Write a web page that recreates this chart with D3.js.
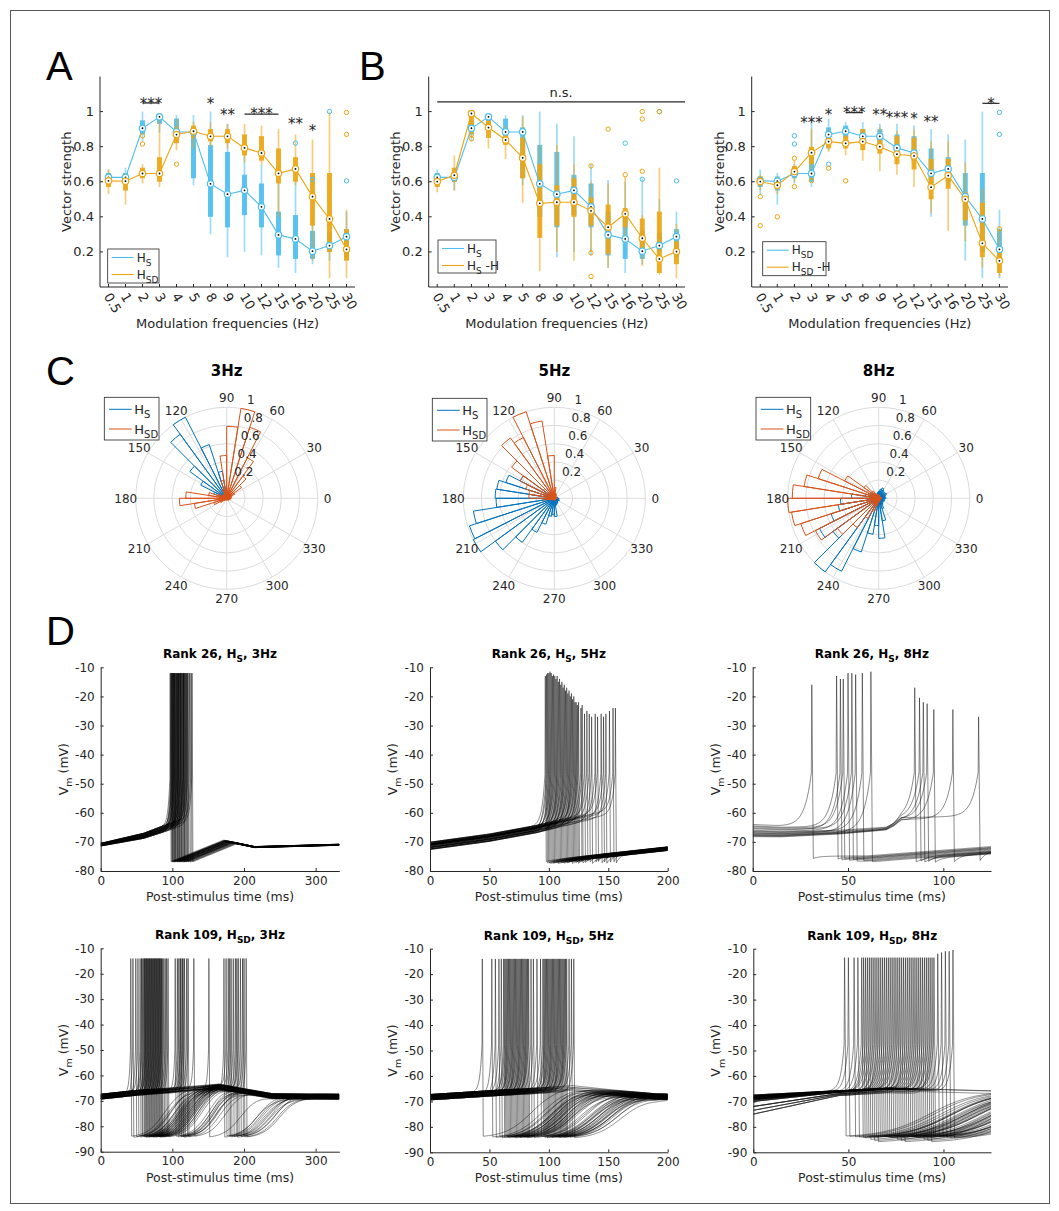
<!DOCTYPE html>
<html>
<head>
<meta charset="utf-8">
<script src="https://cdn.jsdelivr.net/npm/d3@7"></script>
<style>
  body { margin: 0; background: #fff; }
  text { font-family: "DejaVu Sans", sans-serif; fill: #262626; }
</style>
</head>
<body>
<div id="chart"></div>
<script>
// ---------- A / B : vector strength per modulation frequency ----------
const freqs = ["0.5", "1", "2", "3", "4", "5", "8", "9", "10", "12", "15", "16", "20", "25", "30"];
const vsTicks = [0.2, 0.4, 0.6, 0.8, 1];

// medians
const medHS    = [0.625, 0.625, 0.905, 0.97, 0.884, 0.884, 0.588, 0.529, 0.551, 0.457, 0.297, 0.274, 0.204, 0.236, 0.287];
const medHSD   = [0.605, 0.603, 0.647, 0.647, 0.869, 0.888, 0.859, 0.859, 0.793, 0.764, 0.648, 0.673, 0.515, 0.388, 0.215];
const medHSmH  = [0.601, 0.637, 0.989, 0.909, 0.838, 0.736, 0.477, 0.483, 0.483, 0.434, 0.341, 0.417, 0.278, 0.160, 0.202];
const medHSDmH = [0.601, 0.580, 0.658, 0.766, 0.829, 0.819, 0.829, 0.800, 0.757, 0.747, 0.569, 0.635, 0.500, 0.249, 0.149];

// [whisker low, q1, q3, whisker high]
const boxHS = [[0.58, 0.60, 0.65, 0.67], [0.55, 0.60, 0.65, 0.68], [0.83, 0.87, 0.95, 1.0], [0.88, 0.93, 0.98, 0.99],
  [0.82, 0.86, 0.96, 0.98], [0.58, 0.62, 0.91, 0.98], [0.30, 0.40, 0.81, 1.0], [0.17, 0.34, 0.77, 0.93],
  [0.20, 0.41, 0.64, 0.86], [0.18, 0.34, 0.59, 0.70], [0.11, 0.18, 0.43, 0.61], [0.08, 0.16, 0.41, 0.60],
  [0.13, 0.16, 0.32, 0.62], [0.15, 0.20, 0.31, 0.50], [0.16, 0.17, 0.33, 0.43]];
const boxHSD = [[0.53, 0.57, 0.63, 0.67], [0.47, 0.55, 0.63, 0.65], [0.59, 0.62, 0.68, 0.70], [0.57, 0.60, 0.74, 0.96],
  [0.78, 0.82, 0.91, 0.96], [0.79, 0.85, 0.92, 0.94], [0.80, 0.83, 0.90, 0.94], [0.79, 0.82, 0.90, 0.93],
  [0.71, 0.75, 0.87, 0.93], [0.70, 0.72, 0.86, 0.92], [0.40, 0.59, 0.79, 0.90], [0.58, 0.60, 0.74, 0.87],
  [0.15, 0.35, 0.65, 0.84], [0.05, 0.20, 0.65, 1.0], [0.05, 0.15, 0.33, 0.44]];
const boxHSmH = [[0.54, 0.57, 0.63, 0.65], [0.55, 0.60, 0.68, 0.75], [0.85, 0.88, 0.99, 1.0], [0.79, 0.85, 0.95, 0.97],
  [0.73, 0.81, 0.87, 0.92], [0.48, 0.62, 0.85, 0.97], [0.09, 0.28, 0.70, 0.81], [0.20, 0.35, 0.58, 0.81],
  [0.15, 0.40, 0.62, 0.70], [0.20, 0.35, 0.51, 0.60], [0.11, 0.19, 0.47, 0.59], [0.25, 0.34, 0.45, 0.63],
  [0.12, 0.20, 0.39, 0.41], [0.07, 0.08, 0.43, 0.68], [0.05, 0.13, 0.26, 0.36]];
const boxHSDmH = [[0.55, 0.58, 0.63, 0.64], [0.53, 0.56, 0.62, 0.63], [0.60, 0.63, 0.69, 0.72], [0.61, 0.70, 0.80, 0.90],
  [0.77, 0.79, 0.88, 0.90], [0.75, 0.79, 0.86, 0.90], [0.72, 0.78, 0.90, 0.90], [0.66, 0.76, 0.86, 0.91],
  [0.64, 0.70, 0.86, 0.89], [0.57, 0.67, 0.85, 0.90], [0.42, 0.50, 0.73, 0.83], [0.32, 0.56, 0.73, 0.83],
  [0.26, 0.38, 0.54, 0.71], [0.11, 0.17, 0.48, 0.56], [0.06, 0.08, 0.20, 0.33]];

// outliers: [category index, value]
const outHS    = [[11, 0.82], [12, 0.614], [13, 1.0], [14, 0.605]];
const outHSD   = [[2, 0.862], [2, 0.815], [4, 0.70], [14, 0.995], [14, 0.87]];
const outHSmH  = [[2, 0.868], [2, 0.845], [9, 0.69], [9, 0.195], [9, 0.06], [10, 0.90], [11, 0.64],
  [12, 1.0], [12, 0.958], [12, 0.66], [13, 1.0]];
const outHSDmH = [[0, 0.515], [0, 0.35], [1, 0.40], [2, 0.734], [2, 0.572], [3, 0.607], [4, 0.677], [5, 0.605], [14, 0.331]];

// significance marks: star centre and optional bar (vector strength units)
const sigA = [
  { from: "2", to: "3", label: "***", y: 1.066, bar: 1.049 },
  { from: "8", to: "8", label: "*", y: 1.064 },
  { from: "9", to: "9", label: "**", y: 1.0 },
  { from: "10", to: "15", label: "***", y: 1.006, bar: 0.986 },
  { from: "16", to: "16", label: "**", y: 0.949 },
  { from: "20", to: "20", label: "*", y: 0.909 }
];
const sigBright = [
  { from: "3", to: "3", label: "***", y: 0.955 },
  { from: "4", to: "4", label: "*", y: 1.003 },
  { from: "5", to: "8", label: "***", y: 1.01, bar: 0.994 },
  { from: "9", to: "9", label: "**", y: 0.998 },
  { from: "10", to: "10", label: "***", y: 0.983 },
  { from: "12", to: "12", label: "*", y: 0.98 },
  { from: "15", to: "15", label: "**", y: 0.963 },
  { from: "25", to: "30", label: "*", y: 1.063, bar: 1.047 }
];
const nsBar = 1.055;

// ---------- C : polar histograms (40 bins of 9 deg, bin i = [9i, 9i+9]) ----------
const binDeg = 9;
const polarRTicks = [0.2, 0.4, 0.6, 0.8, 1];
const polarATicks = [0, 30, 60, 90, 120, 150, 180, 210, 240, 270, 300, 330];
const pol3HS  = [0.02, 0.02, 0.03, 0.03, 0.04, 0.05, 0.05, 0.06, 0.08, 0.06, 0.12, 0.30, 0.62, 1.0, 0.87, 0.50, 0.32, 0.15, 0.08, 0.06,
  0.04, 0.03, 0.02, 0.02, 0.01, 0.01, 0.01, 0, 0, 0, 0, 0, 0, 0, 0, 0, 0.01, 0.01, 0.01, 0.02];
const pol3HSD = [0.05, 0.05, 0.06, 0.10, 0.20, 0.30, 0.50, 0.82, 1.0, 0.79, 0.47, 0.20, 0.10, 0.06, 0.05, 0.05, 0.06, 0.10, 0.20, 0.45,
  0.52, 0.36, 0.15, 0.08, 0.04, 0.03, 0.02, 0.02, 0.02, 0.02, 0.02, 0.02, 0.02, 0.02, 0.02, 0.03, 0.03, 0.03, 0.04, 0.04];
const pol5HS  = [0.04, 0.03, 0.03, 0.02, 0.02, 0.02, 0.02, 0.02, 0.02, 0.02, 0.03, 0.04, 0.05, 0.08, 0.12, 0.15, 0.42, 0.56, 0.64, 0.65,
  0.64, 0.90, 0.98, 1.0, 0.80, 0.60, 0.42, 0.30, 0.20, 0.18, 0.20, 0.08, 0.07, 0.06, 0.06, 0.05, 0.05, 0.06, 0.05, 0.05];
const pol5HSD = [0.03, 0.02, 0.02, 0.02, 0.02, 0.03, 0.04, 0.05, 0.06, 0.12, 0.47, 0.86, 1.0, 0.75, 0.82, 0.58, 0.42, 0.33, 0.28, 0.28,
  0.12, 0.06, 0.04, 0.03, 0.02, 0.02, 0.02, 0.02, 0.02, 0.02, 0.02, 0.02, 0.02, 0.02, 0.02, 0.02, 0.02, 0.02, 0.02, 0.03];
const pol8HS  = [0.08, 0.07, 0.08, 0.10, 0.09, 0.08, 0.10, 0.12, 0.10, 0.08, 0.07, 0.06, 0.05, 0.05, 0.06, 0.08, 0.10, 0.12, 0.15, 0.30,
  0.42, 0.45, 0.55, 0.73, 0.62, 1.0, 0.90, 0.62, 0.40, 0.30, 0.44, 0.25, 0.12, 0.08, 0.07, 0.06, 0.06, 0.07, 0.06, 0.07];
const pol8HSD = [0.03, 0.03, 0.02, 0.02, 0.02, 0.02, 0.02, 0.03, 0.03, 0.03, 0.04, 0.04, 0.05, 0.05, 0.10, 0.20, 0.42, 0.70, 0.83, 0.95,
  1.0, 0.97, 0.90, 0.78, 0.56, 0.40, 0.25, 0.15, 0.08, 0.05, 0.04, 0.03, 0.03, 0.03, 0.02, 0.02, 0.02, 0.02, 0.02, 0.03];

// ---------- D : membrane potential traces ----------
const tTicks333 = [0, 100, 200, 300];
const tTicks200 = [0, 50, 100, 150, 200];
const tTicks125 = [0, 50, 100];
const vTicks26  = [-80, -70, -60, -50, -40, -30, -20, -10];
const vTicks109 = [-90, -80, -70, -60, -50, -40, -30, -20, -10];

// one entry per trial, each a list of spikes: time (ms) or [time, peak mV]
const r26Hz3Spikes = [[97], [98], [99], [99.5], [100], [101], [101.5], [102], [103], [103.5], [104], [105], [106], [106.5],
  [107], [108], [108.5], [109], [110], [111], [111.5], [112], [113], [114], [115], [115.5], [116], [117], [118], [119],
  [120], [121], [122], [124], [126], [127.5]];
const r26Hz5Spikes = [[[97, -13]], [[98, -12.5]], [[99, -12]], [[100, -12]], [[101, -11.5]], [[102, -12]], [[103, -13]],
  [[104, -12.5]], [[105, -13]], [[106, -14]], [[107, -13]], [[108, -15]], [[109, -14]], [[110, -16]], [[111, -15]],
  [[112, -17]], [[113, -16]], [[114, -18]], [[115, -17]], [[116, -19]], [[117, -18]], [[118, -20]], [[119, -19]],
  [[120, -21]], [[121, -20]], [[122, -22]], [[123, -22]], [[124, -23]], [[125, -22]], [[127, -24]], [[128, -23]],
  [[130, -26]], [[132, -25]], [[134, -26]], [[136, -27]], [[139, -26]], [[141, -27]], [[144, -26]], [[146, -27]],
  [[148, -26]], [[151, -25]], [[154, -24]], [[156, -24]]];
const r26Hz8Spikes = [[[31, -16]], [[44, -13]], [[46, -14]], [[47.5, -14]], [[50, -12]], [[52, -12]], [[54, -12.5]],
  [[57.5, -12]], [[62, -11.5]], [[85, -17]], [[87.5, -20.5]], [[89.5, -22]], [[91.5, -22.5]], [[95, -24.5]],
  [[105, -24.5]], [[118.5, -27]]];
const r109Hz3Spikes = [[57], [58], [60], [61], [62], [63], [64], [65], [66], [67], [68], [69], [70], [71], [72], [73], [74],
  [75], [76], [77], [78], [79], [80], [81], [82], [83], [84], [85], [86], [88], [90], [92], [94],
  [42, 178], [45, 172], [49, 185], [52, 192], [55, 200],
  [104], [107], [109], [111], [112], [114], [115], [117], [120], [122], [130], [151],
  [175], [180], [182], [188], [190], [195], [198], [203], [], [], [], [], [], []];
const r109Hz5Spikes = [[44], [52], [55], [58], [60], [62], [63], [64], [65], [66], [67], [68], [69], [70], [71], [72], [73],
  [74], [75], [76], [77], [78], [79], [80], [81], [82], [83], [85], [87], [90], [93], [95], [96], [97], [98], [99], [100],
  [101], [102], [103], [104], [105], [106], [107], [108], [109], [110], [111], [112], [113], [114], [115], [117], [119],
  [121], [], [], [], []];
const r109Hz8Spikes = [[48], [50], [53], [55], [57], [58], [59], [60], [61], [62], [63], [64], [65], [66], [67], [68], [69],
  [70], [71], [72], [73], [74], [75], [76], [77], [78], [79], [80], [81], [82], [83], [84], [85], [86], [87], [88], [89],
  [90], [91], [92], [93], [94], [95], [[97, -12]], [[99, -11.5]], [[101, -11]], [[103, -11]], [[105, -10.5]], [], [], []];

// starting potentials (mV), taken in turn by the trials of a panel
const r26Hz3Start = [-70.6, -71.2, -70.9, -71.4, -70.5, -71.0, -71.3, -70.7, -71.1, -70.8];
const r26Hz5Start = [-70.3, -71.8, -70.9, -72.4, -71.2, -70.6, -72.0, -71.5, -70.1, -71.0, -72.6, -70.8];
const r26Hz8Start = [-64.0, -64.5, -65.5, -64.8, -66.0, -65.2, -67.0, -66.5, -67.5, -67.8, -66.8, -68.0, -67.2, -68.2, -67.6, -66.3];
const r109Hz3Start = [-67.6, -68.2, -68.8, -67.9, -69.3, -68.5, -67.4, -68.9, -68.1, -69.0];
const r109Hz5Start = [-67.5, -68.3, -68.9, -67.8, -69.4, -68.6, -67.3, -68.0, -69.1, -68.4];
const r109Hz8Start = [-67.5, -68.0, -68.5, -69.0, -69.5, -70.0, -68.2, -67.8, -72.0, -68.8, -73.5, -69.2, -75.0, -68.4];

// ---------------------------------------------------------------------
const blue = "#4DBEEE", orange = "#EDA512";
const polBlue = "#0072BD", polRed = "#D95319";
const axisCol = "#262626";

const svg = d3.select("#chart").append("svg")
  .attr("width", 1059)
  .attr("height", 1211);

svg.append("rect")
  .attr("x", 10.5).attr("y", 10.5)
  .attr("width", 1039).attr("height", 1193)
  .attr("fill", "none").attr("stroke", "#555").attr("stroke-width", 1);

// text with subscripts: parts = [[string, isSub], ...]
function rich(sel, parts, size, subSize) {
  let low = false;
  parts.forEach(p => {
    const sub = p[1] === 1;
    const t = sel.append("tspan").text(p[0]).attr("font-size", sub ? subSize : size);
    if (sub && !low) { t.attr("dy", subSize * 0.45); low = true; }
    else if (!sub && low) { t.attr("dy", -subSize * 0.45); low = false; }
  });
  return sel;
}

// panel letters
[["A", 46, 79.5], ["B", 359, 79.5], ["C", 46, 385], ["D", 46, 645]].forEach(([l, x, y]) => {
  svg.append("text").attr("x", x).attr("y", y).text(l)
    .style("font-family", "'Liberation Sans', Arial, sans-serif")
    .style("font-size", "40px").style("fill", "#000");
});

// ---------- box panels ----------
const boxPanels = [
  { left: 100, right: 355, ylab: 66.7, series: [
      { med: medHS, box: boxHS, out: outHS, color: blue },
      { med: medHSD, box: boxHSD, out: outHSD, color: orange }],
    legend: { x: 107.7, y: 249, w: 51.3, h: 34, items: [[["H"], ["S", 1]], [["H"], ["SD", 1]]] },
    sig: sigA },
  { left: 428.7, right: 685, ylab: 395, series: [
      { med: medHS, box: boxHS, out: outHS, color: blue },
      { med: medHSmH, box: boxHSmH, out: outHSmH, color: orange }],
    legend: { x: 438, y: 240, w: 58, h: 33, items: [[["H"], ["S", 1]], [["H"], ["S", 1], [" -H"]]] },
    sig: [], ns: true },
  { left: 751.7, right: 1008, ylab: 719, series: [
      { med: medHSD, box: boxHSD, out: outHSD, color: blue },
      { med: medHSDmH, box: boxHSDmH, out: outHSDmH, color: orange }],
    legend: { x: 762.7, y: 241.7, w: 63.3, h: 34, items: [[["H"], ["SD", 1]], [["H"], ["SD", 1], [" -H"]]] },
    sig: sigBright }
];

boxPanels.forEach(p => {
  const x = d3.scaleLinear().domain([0.5, 15.5]).range([p.left, p.right]);
  const y = d3.scaleLinear().domain([0, 1.2]).range([287, 76.5]);
  const xc = i => x(i + 1);
  const g = svg.append("g");

  p.series.forEach(s => {
    s.box.forEach((b, i) => {
      g.append("line")
        .attr("x1", xc(i)).attr("x2", xc(i)).attr("y1", y(b[0])).attr("y2", y(b[3]))
        .attr("stroke", s.color).attr("stroke-width", 1.7).attr("stroke-opacity", 0.55);
      g.append("line")
        .attr("x1", xc(i)).attr("x2", xc(i)).attr("y1", y(b[1])).attr("y2", y(b[2]))
        .attr("stroke", s.color).attr("stroke-width", 5).attr("stroke-opacity", 0.9);
    });
  });

  p.series.forEach(s => {
    g.append("path")
      .datum(s.med)
      .attr("d", d3.line().x((d, i) => xc(i)).y(d => y(d)))
      .attr("fill", "none").attr("stroke", s.color).attr("stroke-width", 1.1);
  });

  p.series.forEach(s => {
    g.selectAll(null).data(s.out).join("circle")
      .attr("cx", d => xc(d[0])).attr("cy", d => y(d[1])).attr("r", 2.2)
      .attr("fill", "none").attr("stroke", s.color).attr("stroke-width", 1);
    g.selectAll(null).data(s.med).join("circle")
      .attr("cx", (d, i) => xc(i)).attr("cy", d => y(d)).attr("r", 3.2)
      .attr("fill", "#fff").attr("stroke", s.color).attr("stroke-width", 1.2);
    g.selectAll(null).data(s.med).join("circle")
      .attr("cx", (d, i) => xc(i)).attr("cy", d => y(d)).attr("r", 0.9)
      .attr("fill", "#000");
  });

  // axes
  g.append("line").attr("x1", p.left).attr("x2", p.left).attr("y1", y(0)).attr("y2", y(1.2))
    .attr("stroke", axisCol).attr("stroke-width", 1);
  g.append("line").attr("x1", p.left).attr("x2", p.right).attr("y1", y(0)).attr("y2", y(0))
    .attr("stroke", axisCol).attr("stroke-width", 1);
  vsTicks.forEach(v => {
    g.append("line").attr("x1", p.left).attr("x2", p.left + 3).attr("y1", y(v)).attr("y2", y(v))
      .attr("stroke", axisCol);
    g.append("text").attr("x", p.left - 6).attr("y", y(v)).attr("dy", "0.35em")
      .attr("text-anchor", "end").style("font-size", "13px").text(String(v));
  });
  freqs.forEach((f, i) => {
    g.append("line").attr("x1", xc(i)).attr("x2", xc(i)).attr("y1", y(0)).attr("y2", y(0) - 3)
      .attr("stroke", axisCol);
    g.append("text")
      .attr("transform", `translate(${xc(i) - 1},${y(0) + 7}) rotate(60)`)
      .attr("dy", "0.35em").style("font-size", "13px").text(f);
  });
  g.append("text").attr("x", (p.left + p.right) / 2).attr("y", 328)
    .attr("text-anchor", "middle").style("font-size", "13px").text("Modulation frequencies (Hz)");
  g.append("text").attr("transform", `translate(${p.ylab},${(y(0) + y(1.2)) / 2}) rotate(-90)`)
    .attr("dy", "0.35em").attr("text-anchor", "middle").style("font-size", "13px").text("Vector strength");

  // significance
  p.sig.forEach(s => {
    const x1 = xc(freqs.indexOf(s.from)), x2 = xc(freqs.indexOf(s.to));
    g.append("text").attr("x", (x1 + x2) / 2).attr("y", y(s.y) + 8.5)
      .attr("text-anchor", "middle").style("font-size", "15px").text(s.label);
    if (s.bar !== undefined) {
      g.append("line").attr("x1", x1).attr("x2", x2).attr("y1", y(s.bar)).attr("y2", y(s.bar))
        .attr("stroke", axisCol).attr("stroke-width", 1.2);
    }
  });
  if (p.ns) {
    g.append("line").attr("x1", xc(0)).attr("x2", p.right).attr("y1", y(nsBar)).attr("y2", y(nsBar))
      .attr("stroke", axisCol).attr("stroke-width", 1.2);
    g.append("text").attr("x", (xc(0) + p.right) / 2).attr("y", y(nsBar) - 5)
      .attr("text-anchor", "middle").style("font-size", "13px").text("n.s.");
  }

  // legend
  const L = p.legend;
  g.append("rect").attr("x", L.x).attr("y", L.y).attr("width", L.w).attr("height", L.h)
    .attr("fill", "#fff").attr("stroke", axisCol).attr("stroke-width", 0.8);
  L.items.forEach((parts, k) => {
    const ly = L.y + 8.5 + k * 17;
    g.append("line").attr("x1", L.x + 4).attr("x2", L.x + 26).attr("y1", ly).attr("y2", ly)
      .attr("stroke", p.series[k].color).attr("stroke-width", 1.1);
    rich(g.append("text").attr("x", L.x + 29).attr("y", ly + 4), parts, 12, 9);
  });
});

// ---------- polar panels ----------
const R = 91;
const polarPanels = [
  { cx: 226.7, cy: 498.3, title: "3Hz", hs: pol3HS, hsd: pol3HSD, leg: [104.3, 397.3] },
  { cx: 554.3, cy: 498.3, title: "5Hz", hs: pol5HS, hsd: pol5HSD, leg: [432.3, 398.3] },
  { cx: 878.7, cy: 498.3, title: "8Hz", hs: pol8HS, hsd: pol8HSD, leg: [756, 397.3] }
];
const rad = d => d * Math.PI / 180;

polarPanels.forEach(p => {
  const g = svg.append("g").attr("transform", `translate(${p.cx},${p.cy})`);
  const r = d3.scaleLinear().domain([0, 1]).range([0, R]);
  const grid = "#dcdcdc";
  polarRTicks.forEach(v => g.append("circle").attr("r", r(v)).attr("fill", "none")
    .attr("stroke", grid).attr("stroke-width", 1));
  polarATicks.forEach(a => g.append("line")
    .attr("x2", R * Math.cos(rad(a))).attr("y2", -R * Math.sin(rad(a)))
    .attr("stroke", grid).attr("stroke-width", 1));

  const arc = d3.arc().innerRadius(0);
  [[p.hs, polBlue], [p.hsd, polRed]].forEach(([bins, col]) => {
    bins.forEach((v, i) => {
      if (v <= 0) return;
      g.append("path")
        .attr("d", arc({ outerRadius: r(v), startAngle: rad(90 - (i + 1) * binDeg), endAngle: rad(90 - i * binDeg) }))
        .attr("fill", "none").attr("stroke", col).attr("stroke-width", 1);
    });
  });

  polarATicks.forEach(a => g.append("text")
    .attr("x", (R + 10) * Math.cos(rad(a))).attr("y", -(R + 10) * Math.sin(rad(a)))
    .attr("dy", "0.35em").attr("text-anchor", "middle").style("font-size", "12px").text(a));
  polarRTicks.forEach(v => g.append("text")
    .attr("x", r(v) * Math.cos(rad(80)) + 4.5).attr("y", -r(v) * Math.sin(rad(80)) - 8.5)
    .attr("dy", "0.35em").style("font-size", "12px").text(String(v)));

  g.append("text").attr("y", -122).attr("text-anchor", "middle")
    .style("font-size", "15px").style("font-weight", "bold").style("fill", "#000").text(p.title);

  const [lx, ly] = p.leg;
  svg.append("rect").attr("x", lx).attr("y", ly).attr("width", 54.7).attr("height", 42.7)
    .attr("fill", "#fff").attr("stroke", axisCol).attr("stroke-width", 0.8);
  [[[["H"], ["S", 1]], polBlue], [[["H"], ["SD", 1]], polRed]].forEach(([parts, col], k) => {
    const yy = ly + 12 + k * 19.7;
    svg.append("line").attr("x1", lx + 4.7).attr("x2", lx + 27.4).attr("y1", yy).attr("y2", yy)
      .attr("stroke", col).attr("stroke-width", 1);
    rich(svg.append("text").attr("x", lx + 30).attr("y", yy + 4.5), parts, 13, 10);
  });
});

// ---------- trace panels ----------
function interp(pts, t) {
  if (t <= pts[0][0]) return pts[0][1];
  for (let i = 1; i < pts.length; i++) {
    if (t <= pts[i][0]) {
      const [t0, v0] = pts[i - 1], [t1, v1] = pts[i];
      return v0 + (v1 - v0) * (t - t0) / (t1 - t0);
    }
  }
  return pts[pts.length - 1][1];
}

function tracePoints(c, v0, spikes) {
  const off = v0 - interp(c.pre, 0);
  const times = d3.range(0, c.tMax + c.step / 2, c.step);
  spikes.forEach(s => times.push(s[0], s[0] + c.spikeW));
  times.sort((a, b) => a - b);
  const pts = [];
  for (const t of times) {
    let last = null, next = null;
    for (const s of spikes) {
      if (s[0] <= t) last = s; else if (!next) next = s;
    }
    if (last && t === last[0]) { pts.push([t, last[1]]); continue; }
    if (last && t < last[0] + c.spikeW) continue;
    const base = interp(c.pre, t) + off * interp(c.gain, t);
    let v = base;
    if (last) {
      const dt = t - last[0] - c.spikeW;
      const ahp = c.ahp + off * 0.3;
      if (c.post) {
        const env = interp(c.post, t) + off * c.postGain;
        v = c.rise ? Math.min(ahp + c.rise * dt, env)
                   : env + (ahp - env) * Math.exp(-dt / c.tau);
      } else {
        const k = 1 / (1 + Math.exp((dt - c.d0) / c.w));
        v = base + (ahp - base) * k;
      }
    }
    if (next) {
      const dn = next[0] - t;
      if (dn < c.k * 8) v += (c.thr - v) * Math.exp(-dn / c.k);
    }
    pts.push([t, v]);
  }
  return pts;
}

const tracePanels = [
  { left: 100.7, right: 339.3, top: 667.3, bottom: 871, tMax: 333, yDom: [-80, -10], xt: tTicks333, yt: vTicks26,
    title: [["Rank 26, H"], ["S", 1], [", 3Hz"]], spikes: r26Hz3Spikes, start: r26Hz3Start, peak: -12,
    pre: [[0, -71], [60, -68], [95, -65], [130, -62]], gain: [[0, 1], [95, 2.5], [333, 1]],
    post: [[0, -69.6], [172, -69.6], [215, -71.8], [333, -71]], postGain: 0.4, rise: 0.1,
    ahp: -76.8, thr: -45, k: 2.5, step: 0.5, spikeW: 1.2 },
  { left: 430, right: 667.7, top: 667.3, bottom: 871, tMax: 200, yDom: [-80, -10], xt: tTicks200, yt: vTicks26,
    title: [["Rank 26, H"], ["S", 1], [", 5Hz"]], spikes: r26Hz5Spikes, start: r26Hz5Start, peak: -12,
    pre: [[0, -71.3], [50, -68.5], [90, -65.5], [110, -63.5], [160, -59]], gain: [[0, 1], [200, 1]],
    post: [[0, -77], [100, -76.8], [200, -72.3]], postGain: 0.5, tau: 3,
    ahp: -77, thr: -45, k: 2.5, step: 0.25, spikeW: 0.8 },
  { left: 752.7, right: 991, top: 667.3, bottom: 871, tMax: 125, yDom: [-80, -10], xt: tTicks125, yt: vTicks26,
    title: [["Rank 26, H"], ["S", 1], [", 8Hz"]], spikes: r26Hz8Spikes, start: r26Hz8Start, peak: -12,
    pre: [[0, -66], [15, -66.3], [45, -65.8], [70, -64.8], [74, -63.5], [78, -61.5], [125, -61]],
    gain: [[0, 1], [70, 0.5], [125, 0.4]],
    post: [[0, -76.3], [60, -76], [125, -72.8]], postGain: 0.6, tau: 3,
    ahp: -76.3, thr: -45, k: 3.5, step: 0.25, spikeW: 0.8 },
  { left: 100.7, right: 339.3, top: 948.3, bottom: 1151.7, tMax: 333, yDom: [-90, -10], xt: tTicks333, yt: vTicks109,
    title: [["Rank 109, H"], ["SD", 1], [", 3Hz"]], spikes: r109Hz3Spikes, start: r109Hz3Start, peak: -14,
    pre: [[0, -68], [50, -66.5], [100, -65.5], [165, -64], [200, -65.8], [240, -67.8], [333, -68]],
    gain: [[0, 1], [333, 1]], d0: 45, w: 12,
    ahp: -84.3, thr: -45, k: 1.8, step: 0.5, spikeW: 1.2 },
  { left: 430, right: 667.7, top: 948.7, bottom: 1152.3, tMax: 200, yDom: [-90, -10], xt: tTicks200, yt: vTicks109,
    title: [["Rank 109, H"], ["SD", 1], [", 5Hz"]], spikes: r109Hz5Spikes, start: r109Hz5Start, peak: -14,
    pre: [[0, -68], [50, -66.5], [100, -65.2], [120, -64.5], [150, -66], [190, -67.7], [200, -67.8]],
    gain: [[0, 1], [200, 1]], d0: 40, w: 11,
    ahp: -84.3, thr: -45, k: 1.8, step: 0.25, spikeW: 0.8 },
  { left: 753.3, right: 991, top: 948.7, bottom: 1152.3, tMax: 125, yDom: [-90, -10], xt: tTicks125, yt: vTicks109,
    title: [["Rank 109, H"], ["SD", 1], [", 8Hz"]], spikes: r109Hz8Spikes, start: r109Hz8Start, peak: -13.5,
    pre: [[0, -68.5], [40, -66.3], [70, -65], [100, -65.5], [125, -66]],
    gain: [[0, 1], [45, 0.25], [125, 0.25]], d0: 45, w: 12,
    ahp: -84.3, thr: -45, k: 1.8, step: 0.25, spikeW: 0.8 }
];

tracePanels.forEach((c, pi) => {
  const x = d3.scaleLinear().domain([0, c.tMax]).range([c.left, c.right]);
  const y = d3.scaleLinear().domain(c.yDom).range([c.bottom, c.top]);
  const g = svg.append("g");
  const clipId = "clip" + pi;
  g.append("clipPath").attr("id", clipId).append("rect")
    .attr("x", c.left).attr("y", c.top - 2).attr("width", c.right - c.left).attr("height", c.bottom - c.top + 2);
  const line = d3.line().x(d => x(d[0])).y(d => y(d[1]));
  const tg = g.append("g").attr("clip-path", `url(#${clipId})`);
  c.spikes.forEach((tr, i) => {
    const list = tr.map(s => Array.isArray(s) ? s : [s, c.peak]);
    const pts = tracePoints(c, c.start[i % c.start.length], list);
    tg.append("path").attr("d", line(pts))
      .attr("fill", "none").attr("stroke", "#000").attr("stroke-width", 0.55).attr("stroke-opacity", 0.85);
  });

  const ax = g.append("g").attr("transform", `translate(0,${c.bottom})`)
    .call(d3.axisBottom(x).tickValues(c.xt).tickSize(-3).tickSizeOuter(0).tickPadding(5).tickFormat(d => String(d)));
  const ay = g.append("g").attr("transform", `translate(${c.left},0)`)
    .call(d3.axisLeft(y).tickValues(c.yt).tickSize(-3).tickSizeOuter(0).tickPadding(6).tickFormat(d => String(d)));
  [ax, ay].forEach(a => {
    a.selectAll("path, line").attr("stroke", axisCol);
    a.selectAll("text").attr("font-family", null).attr("font-size", null).style("font-size", "12px");
  });

  rich(g.append("text").attr("x", (c.left + c.right) / 2).attr("y", c.top - 9)
    .attr("text-anchor", "middle").style("font-weight", "bold").style("fill", "#000"), c.title, 12, 9);
  g.append("text").attr("x", (c.left + c.right) / 2).attr("y", c.bottom + 30)
    .attr("text-anchor", "middle").style("font-size", "12.5px").text("Post-stimulus time (ms)");
  rich(g.append("text").attr("transform", `translate(${c.left - 33},${(c.top + c.bottom) / 2}) rotate(-90)`)
    .attr("text-anchor", "middle"), [["V"], ["m", 1], [" (mV)"]], 12.5, 9.5);
});
</script>
</body>
</html>
